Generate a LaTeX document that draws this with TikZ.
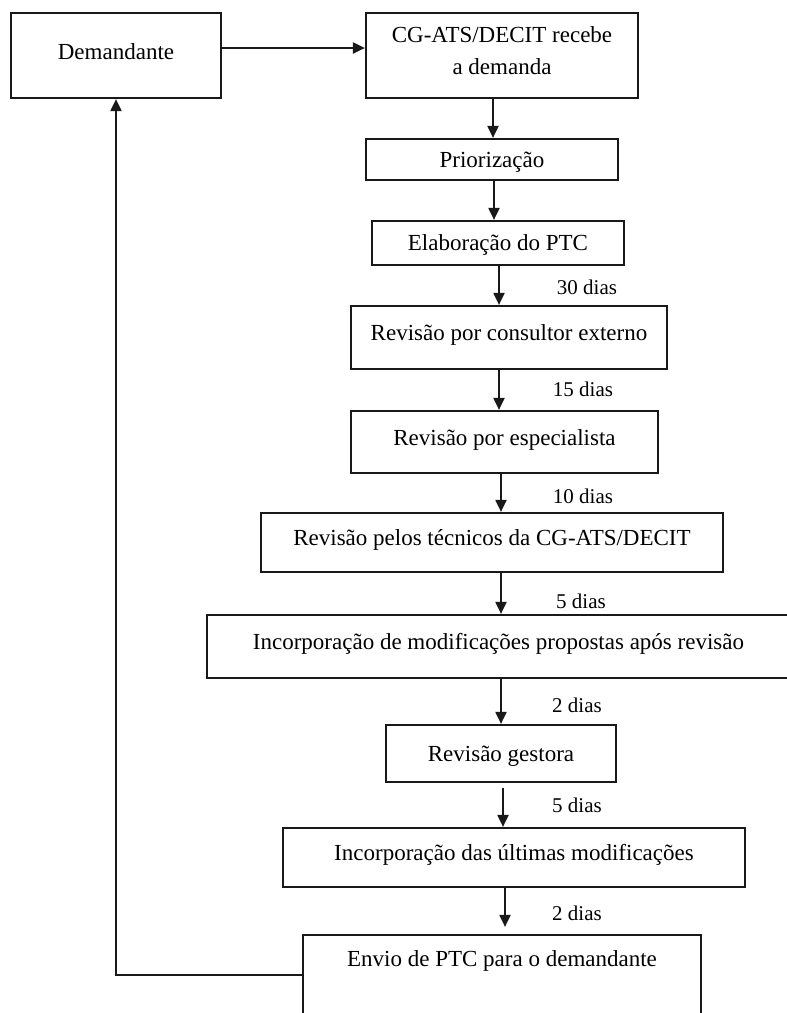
\documentclass[tikz,border=0pt]{standalone}
\usepackage{fontspec}
\setmainfont{Liberation Serif}
\usetikzlibrary{arrows.meta}
\begin{document}
\begin{tikzpicture}[x=1pt,y=-1pt,
  boxbase/.style={draw=black!90,line width=2.2pt,inner sep=0pt,align=center,
    font=\fontsize{23}{32}\selectfont},
  box/.style={boxbase,text height=16pt},
  dlbl/.style={inner sep=0pt,font=\fontsize{21}{24}\selectfont},
  arr/.style={line width=2pt,draw=black!90,-{Triangle[length=12pt,width=11pt]}}]
\useasboundingbox (0,0) rectangle (787,1013);
\clip (0,0) rectangle (787,1013);
\fill[white] (0,0) rectangle (787,1013);

\node[box,minimum width=210,minimum height=85,text depth=8pt] (dem) at (116,55.5) {Demandante};
\node[boxbase,minimum width=272,minimum height=85,text depth=10pt] (cg) at (502,55.5) {CG-ATS/DECIT recebe\\a demanda};
\node[box,minimum width=252,minimum height=41,text depth=1pt] (prio) at (492,159.5) {Priorização};
\node[box,minimum width=252,minimum height=44,text depth=1pt] (elab) at (498,243) {Elaboração do PTC};
\node[box,minimum width=316,minimum height=63,text depth=10pt] (cons) at (509,337.5) {Revisão por consultor externo};
\node[box,minimum width=307,minimum height=62,text depth=10pt] (esp) at (504.5,442) {Revisão por especialista};
\node[box,minimum width=462,minimum height=59,text depth=10pt] (tec) at (492,542.5) {Revisão pelos técnicos da CG-ATS/DECIT};
\node[box,minimum width=583,minimum height=63,text depth=10pt] (inc) at (498.5,646.5) {Incorporação de modificações propostas após revisão};
\node[box,minimum width=230,minimum height=57,text depth=1pt] (gest) at (501,753.5) {Revisão gestora};
\node[box,minimum width=462,minimum height=59,text depth=10pt] (ult) at (514,857.5) {Incorporação das últimas modificações};
\node[box,minimum width=398,minimum height=100,text depth=53pt] (env) at (502,985) {Envio de PTC para o demandante};

\node[dlbl] (l1) at (587,287) {30 dias};
\node[dlbl] (l2) at (583,389) {15 dias};
\node[dlbl] (l3) at (583,496) {10 dias};
\node[dlbl] (l4) at (581,601) {5 dias};
\node[dlbl] (l5) at (577,705) {2 dias};
\node[dlbl] (l6) at (577,805) {5 dias};
\node[dlbl] (l7) at (577,913) {2 dias};

\draw[arr] ([yshift=7.5pt]dem.east) -- ([yshift=7.5pt]cg.west);
\draw[arr] ([xshift=-9pt]cg.south) -- ([xshift=1pt]prio.north);
\draw[arr] ([xshift=2pt]prio.south) -- ([xshift=-4pt]elab.north);
\draw[arr] ([xshift=1pt]elab.south) -- ([xshift=-10pt]cons.north);
\draw[arr] ([xshift=-10pt]cons.south) -- ([xshift=-5.5pt]esp.north);
\draw[arr] ([xshift=-3.5pt]esp.south) -- ([xshift=9pt]tec.north);
\draw[arr] ([xshift=9pt]tec.south) -- ([xshift=2.5pt]inc.north);
\draw[arr] ([xshift=2.5pt]inc.south) -- (gest.north);
\draw[arr] ([xshift=2pt,yshift=-5pt]gest.south) -- ([xshift=-11pt]ult.north);
\draw[arr] ([xshift=-9pt]ult.south) -- ([xshift=3pt,yshift=7pt]env.north);
\draw[arr] ([yshift=10pt]env.west) -| (dem.south);
\end{tikzpicture}
\end{document}
